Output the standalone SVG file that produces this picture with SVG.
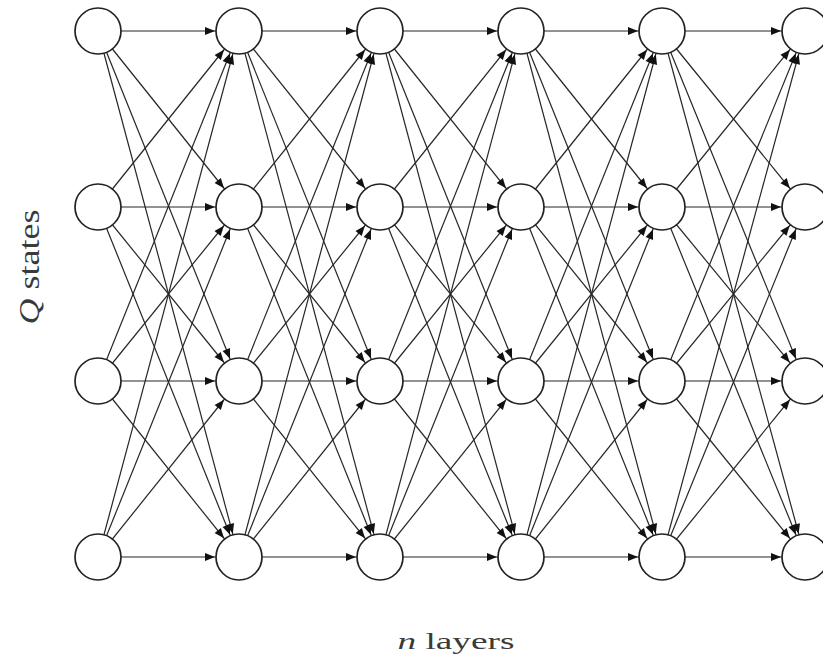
<svg xmlns="http://www.w3.org/2000/svg" width="823" height="664" viewBox="0 0 823 664">
<style>
.c line{stroke:#262626;stroke-width:1.2;fill:none;marker-end:url(#ah)}
.n circle{fill:#fff;stroke:#222;stroke-width:1.7}
.t{font-family:"Liberation Serif","DejaVu Serif",serif;fill:#3a3a3a}
</style>
<defs>
<marker id="ah" markerUnits="userSpaceOnUse" markerWidth="11" markerHeight="9" refX="34" refY="4" orient="auto" overflow="visible">
<path d="M0,0 L10,4 L0,8 z" fill="#111"/>
</marker>
</defs>
<rect width="823" height="664" fill="#fff"/>
<g class="c" id="connectors">
<line x1="98" y1="31" x2="239" y2="31"/><line x1="98" y1="31" x2="239" y2="207"/><line x1="98" y1="31" x2="239" y2="381"/><line x1="98" y1="31" x2="239" y2="557"/>
<line x1="98" y1="207" x2="239" y2="31"/><line x1="98" y1="207" x2="239" y2="207"/><line x1="98" y1="207" x2="239" y2="381"/><line x1="98" y1="207" x2="239" y2="557"/>
<line x1="98" y1="381" x2="239" y2="31"/><line x1="98" y1="381" x2="239" y2="207"/><line x1="98" y1="381" x2="239" y2="381"/><line x1="98" y1="381" x2="239" y2="557"/>
<line x1="98" y1="557" x2="239" y2="31"/><line x1="98" y1="557" x2="239" y2="207"/><line x1="98" y1="557" x2="239" y2="381"/><line x1="98" y1="557" x2="239" y2="557"/>
<line x1="239" y1="31" x2="380" y2="31"/><line x1="239" y1="31" x2="380" y2="207"/><line x1="239" y1="31" x2="380" y2="381"/><line x1="239" y1="31" x2="380" y2="557"/>
<line x1="239" y1="207" x2="380" y2="31"/><line x1="239" y1="207" x2="380" y2="207"/><line x1="239" y1="207" x2="380" y2="381"/><line x1="239" y1="207" x2="380" y2="557"/>
<line x1="239" y1="381" x2="380" y2="31"/><line x1="239" y1="381" x2="380" y2="207"/><line x1="239" y1="381" x2="380" y2="381"/><line x1="239" y1="381" x2="380" y2="557"/>
<line x1="239" y1="557" x2="380" y2="31"/><line x1="239" y1="557" x2="380" y2="207"/><line x1="239" y1="557" x2="380" y2="381"/><line x1="239" y1="557" x2="380" y2="557"/>
<line x1="380" y1="31" x2="521" y2="31"/><line x1="380" y1="31" x2="521" y2="207"/><line x1="380" y1="31" x2="521" y2="381"/><line x1="380" y1="31" x2="521" y2="557"/>
<line x1="380" y1="207" x2="521" y2="31"/><line x1="380" y1="207" x2="521" y2="207"/><line x1="380" y1="207" x2="521" y2="381"/><line x1="380" y1="207" x2="521" y2="557"/>
<line x1="380" y1="381" x2="521" y2="31"/><line x1="380" y1="381" x2="521" y2="207"/><line x1="380" y1="381" x2="521" y2="381"/><line x1="380" y1="381" x2="521" y2="557"/>
<line x1="380" y1="557" x2="521" y2="31"/><line x1="380" y1="557" x2="521" y2="207"/><line x1="380" y1="557" x2="521" y2="381"/><line x1="380" y1="557" x2="521" y2="557"/>
<line x1="521" y1="31" x2="662" y2="31"/><line x1="521" y1="31" x2="662" y2="207"/><line x1="521" y1="31" x2="662" y2="381"/><line x1="521" y1="31" x2="662" y2="557"/>
<line x1="521" y1="207" x2="662" y2="31"/><line x1="521" y1="207" x2="662" y2="207"/><line x1="521" y1="207" x2="662" y2="381"/><line x1="521" y1="207" x2="662" y2="557"/>
<line x1="521" y1="381" x2="662" y2="31"/><line x1="521" y1="381" x2="662" y2="207"/><line x1="521" y1="381" x2="662" y2="381"/><line x1="521" y1="381" x2="662" y2="557"/>
<line x1="521" y1="557" x2="662" y2="31"/><line x1="521" y1="557" x2="662" y2="207"/><line x1="521" y1="557" x2="662" y2="381"/><line x1="521" y1="557" x2="662" y2="557"/>
<line x1="662" y1="31" x2="805" y2="31"/><line x1="662" y1="31" x2="805" y2="207"/><line x1="662" y1="31" x2="805" y2="381"/><line x1="662" y1="31" x2="805" y2="557"/>
<line x1="662" y1="207" x2="805" y2="31"/><line x1="662" y1="207" x2="805" y2="207"/><line x1="662" y1="207" x2="805" y2="381"/><line x1="662" y1="207" x2="805" y2="557"/>
<line x1="662" y1="381" x2="805" y2="31"/><line x1="662" y1="381" x2="805" y2="207"/><line x1="662" y1="381" x2="805" y2="381"/><line x1="662" y1="381" x2="805" y2="557"/>
<line x1="662" y1="557" x2="805" y2="31"/><line x1="662" y1="557" x2="805" y2="207"/><line x1="662" y1="557" x2="805" y2="381"/><line x1="662" y1="557" x2="805" y2="557"/>
</g>
<g class="n">
<g id="n1-1"><circle cx="98" cy="31" r="23"/></g>
<g id="n1-2"><circle cx="98" cy="207" r="23"/></g>
<g id="n1-3"><circle cx="98" cy="381" r="23"/></g>
<g id="n1-4"><circle cx="98" cy="557" r="23"/></g>
<g id="n2-1"><circle cx="239" cy="31" r="23"/></g>
<g id="n2-2"><circle cx="239" cy="207" r="23"/></g>
<g id="n2-3"><circle cx="239" cy="381" r="23"/></g>
<g id="n2-4"><circle cx="239" cy="557" r="23"/></g>
<g id="n3-1"><circle cx="380" cy="31" r="23"/></g>
<g id="n3-2"><circle cx="380" cy="207" r="23"/></g>
<g id="n3-3"><circle cx="380" cy="381" r="23"/></g>
<g id="n3-4"><circle cx="380" cy="557" r="23"/></g>
<g id="n4-1"><circle cx="521" cy="31" r="23"/></g>
<g id="n4-2"><circle cx="521" cy="207" r="23"/></g>
<g id="n4-3"><circle cx="521" cy="381" r="23"/></g>
<g id="n4-4"><circle cx="521" cy="557" r="23"/></g>
<g id="n5-1"><circle cx="662" cy="31" r="23"/></g>
<g id="n5-2"><circle cx="662" cy="207" r="23"/></g>
<g id="n5-3"><circle cx="662" cy="381" r="23"/></g>
<g id="n5-4"><circle cx="662" cy="557" r="23"/></g>
<g id="n6-1"><circle cx="805" cy="31" r="23"/></g>
<g id="n6-2"><circle cx="805" cy="207" r="23"/></g>
<g id="n6-3"><circle cx="805" cy="381" r="23"/></g>
<g id="n6-4"><circle cx="805" cy="557" r="23"/></g>
</g>
<text class="t" font-size="24" transform="translate(39,267) scale(1.2,1) rotate(-90)" text-anchor="middle" textLength="115" lengthAdjust="spacingAndGlyphs"><tspan font-style="italic">Q</tspan> states</text>
<text class="t" font-size="24" x="456" y="649" text-anchor="middle" textLength="117" lengthAdjust="spacingAndGlyphs"><tspan font-style="italic">n</tspan> layers</text>
</svg>
